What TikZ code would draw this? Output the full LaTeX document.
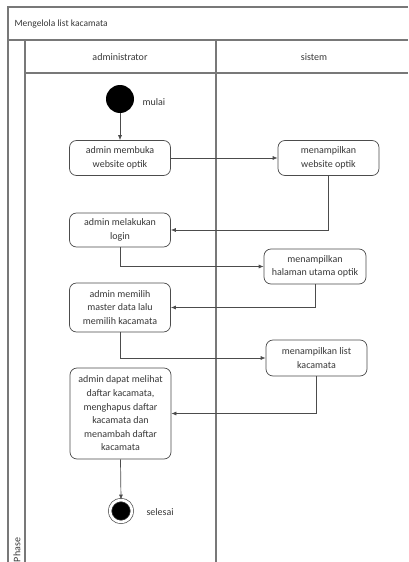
\documentclass[tikz,border=0pt]{standalone}
\usepackage{fontspec}
\setmainfont{Carlito}
\usepackage{tikz}
\usetikzlibrary{arrows.meta}
\definecolor{framegray}{rgb}{0.47,0.47,0.47}
\definecolor{linegray}{rgb}{0.30,0.30,0.30}
\definecolor{textgray}{rgb}{0.22,0.22,0.22}

\begin{document}
\begin{tikzpicture}[x=1pt, y=-1pt,
    every node/.style={text=textgray},
    frame/.style={framegray, line width=1.3pt},
    activity/.style={draw=linegray, line width=0.7pt, rounded corners=7pt, fill=white,
        minimum width=101pt, inner sep=2pt, align=center,
        font=\fontsize{10}{13.6}\selectfont},
    flow/.style={linegray, line width=0.7pt, -{Latex[length=5pt,width=4pt]}},
    lbl/.style={font=\fontsize{10}{12}\selectfont}]
                \useasboundingbox (0,0) rectangle (408,562);
                % 1. Draw the swimlane frame
                \draw[frame] (408,7) -- (8,7) -- (8,562);
                \draw[frame] (8,40) -- (408,40);
                \draw[frame] (25,40) -- (25,562);
                \draw[frame] (25,73) -- (408,73);
                \draw[frame] (216,40) -- (216,562);

                \node[anchor=west, font=\fontsize{9.5}{11}\selectfont] (judul) at (11,24) {Mengelola list kacamata};
                \node[lbl] (admin) at (120,57) {administrator};
                \node[lbl] (sistem) at (314,57) {sistem};
                \node[lbl, rotate=90] (phase) at (17,550) {Phase};

                % 2. Activities
                \node[circle, fill=black, minimum size=28pt, inner sep=0pt] (mulai) at (120,99) {};
                \node[lbl, anchor=west] (lmulai) at (139,102) {mulai};
                \node[activity, minimum height=35pt] (box1) at (120,158) {admin membuka\\website optik};
                \node[activity, minimum height=35pt] (sis1) at (328.5,158) {menampilkan\\website optik};
                \node[activity, minimum height=34pt] (box2) at (120,230) {admin melakukan\\login};
                \node[activity, minimum height=35pt, minimum width=102pt] (sis2) at (315,266.5) {menampilkan\\halaman utama optik};
                \node[activity, minimum height=49pt] (box3) at (120,307.5) {admin memilih\\master data lalu\\memilih kacamata};
                \node[activity, minimum height=36pt] (sis3) at (316.5,358) {menampilkan list\\kacamata};
                \node[activity, minimum height=91pt] (box4) at (120.5,413.5) {admin dapat melihat\\daftar kacamata,\\menghapus daftar\\kacamata dan\\menambah daftar\\kacamata};
                \node[circle, draw=linegray, line width=0.7pt, fill=black, minimum size=22pt, inner sep=0pt,
                    double=white, double distance=2.6pt] (selesai) at (121,511) {};
                \node[lbl, anchor=west] (lselesai) at (143,512) {selesai};

                % 3. Control flow
                \draw[flow] (mulai) -- (box1);
                \draw[flow] (box1) -- (sis1);
                \draw[flow] (sis1.south) |- (box2.east);
                \draw[flow] (box2.south) |- (sis2.west);
                \draw[flow] (sis2.south) |- (box3.east);
                \draw[flow] (box3.south) |- (sis3.west);
                \draw[flow] (sis3.south) |- (box4.east);
                \draw[flow] (box4.south) -- (selesai.north);
            \end{tikzpicture}
\end{document}
